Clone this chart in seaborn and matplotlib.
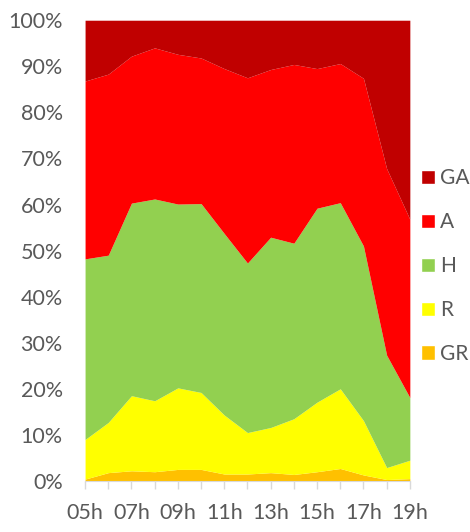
import matplotlib
matplotlib.use("Agg")
from matplotlib import pyplot as plt
from matplotlib.patches import Patch
import pandas as pd
import seaborn as sns

hours = ["05h", "06h", "07h", "08h", "09h", "10h", "11h", "12h",
         "13h", "14h", "15h", "16h", "17h", "18h", "19h"]

# share of each category per hour, in %
GR = [0.4, 1.8, 2.2, 2.0, 2.5, 2.5, 1.5, 1.5, 1.8, 1.4, 2.0, 2.7, 1.3, 0.3, 0.5]
R = [8.6, 10.9, 16.3, 15.4, 17.7, 16.7, 12.8, 9.0, 9.8, 12.1, 15.1, 17.3, 11.8, 2.6, 4.0]
H = [39.2, 36.3, 41.8, 43.8, 39.9, 41.0, 39.4, 36.8, 41.3, 38.1, 42.1, 40.4, 37.9, 24.4, 13.6]
A = [38.6, 39.3, 31.9, 32.8, 32.5, 31.6, 35.8, 40.2, 36.4, 38.8, 30.3, 30.2, 36.4, 40.5, 38.7]
GA = [13.2, 11.7, 7.8, 6.0, 7.4, 8.2, 10.5, 12.5, 10.7, 9.6, 10.5, 9.4, 12.6, 32.2, 43.2]

series = ["GR", "R", "H", "A", "GA"]
colors = {"GR": "#FFC000", "R": "#FFFF00", "H": "#92D050", "A": "#FF0000", "GA": "#C00000"}

df = pd.DataFrame({"GR": GR, "R": R, "H": H, "A": A, "GA": GA}, index=hours)
df = df.div(df.sum(axis=1), axis=0) * 100

sns.set_style("white")
plt.rcParams["font.family"] = ["Lato", "DejaVu Sans"]
grey = "#595959"

fig = plt.figure(figsize=(4.7, 5.32), dpi=100)
ax = fig.add_axes([0.181, 0.096, 0.691, 0.866])

x = list(range(len(hours)))
ax.stackplot(x, [df[s].values for s in series],
             colors=[colors[s] for s in series], linewidth=0)

ax.set_xlim(0, len(hours) - 1)
ax.set_ylim(0, 100)
ax.set_yticks(range(0, 101, 10))
ax.set_yticklabels([f"{v}%" for v in range(0, 101, 10)], color=grey, fontsize=15.5)
ax.set_xticks(x)
ax.set_xticklabels([h if i % 2 == 0 else "" for i, h in enumerate(hours)],
                   color=grey, fontsize=15.5)
ax.tick_params(axis="x", length=6, width=1, color="#D9D9D9", pad=10, bottom=True)
ax.tick_params(axis="y", length=0, pad=16)

for side in ["top", "right", "left"]:
    ax.spines[side].set_visible(False)
ax.spines["bottom"].set_color("#D9D9D9")

handles = [Patch(facecolor=colors[s], label=s) for s in reversed(series)]
leg = fig.legend(handles=handles, loc="center left",
                 bbox_to_anchor=(421 / 470, 1 - 266 / 532),
                 frameon=False, fontsize=15, handlelength=0.68, handleheight=0.68,
                 handletextpad=0.25, labelspacing=1.15, borderpad=0, borderaxespad=0)
for t in leg.get_texts():
    t.set_color(grey)

plt.savefig("out.png", dpi=100)
plt.close()
